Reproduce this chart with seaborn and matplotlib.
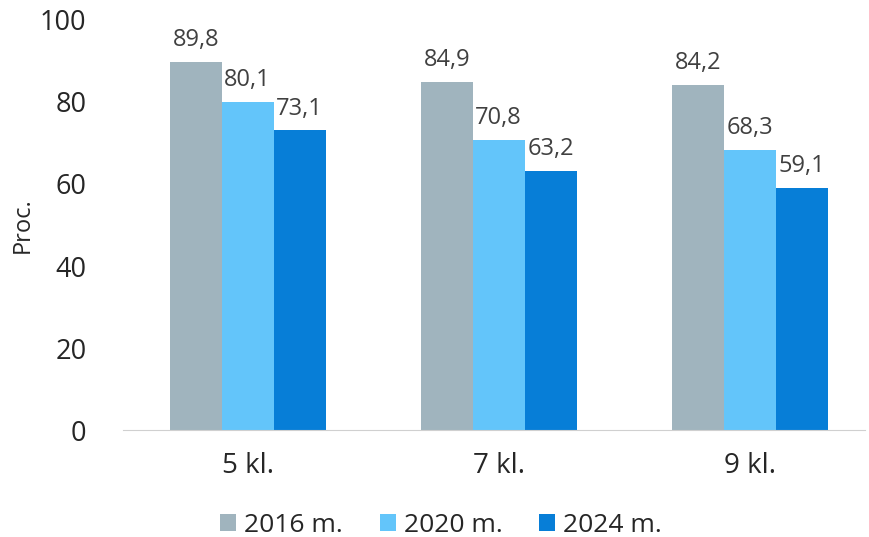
import matplotlib
matplotlib.use('Agg')
import matplotlib.pyplot as plt
import pandas as pd
import seaborn as sns

''' DATA '''
classes = ['5 kl.', '7 kl.', '9 kl.']
years = ['2016 m.', '2020 m.', '2024 m.']
v2016 = [89.8, 84.9, 84.2]
v2020 = [80.1, 70.8, 68.3]
v2024 = [73.1, 63.2, 59.1]
colors = ['#A0B4BE', '#63C5FA', '#077ED7']

df = pd.DataFrame({
    'klase': classes * 3,
    'metai': [years[0]] * 3 + [years[1]] * 3 + [years[2]] * 3,
    'proc': v2016 + v2020 + v2024,
})

''' PLOT '''
sns.set_style('white')
plt.rcParams['font.family'] = ['Open Sans', 'DejaVu Sans']

fig = plt.figure(figsize=(8.7, 5.37), dpi=100)
ax = fig.add_axes([0.141, 0.199, 0.853, 0.764])
sns.barplot(data=df, x='klase', y='proc', hue='metai', palette=colors,
            width=0.62, gap=0, saturation=1, linewidth=0, ax=ax)

for cont in ax.containers:
    ax.bar_label(cont, labels=[f'{v:.1f}'.replace('.', ',') for v in cont.datavalues],
                 padding=7, fontsize=17, color='#404040')

ax.set_ylim(0, 100)
ax.set_xlim(-0.498, 2.458)
ax.set_yticks(range(0, 101, 20))
ax.tick_params(axis='y', labelsize=19.5, pad=26, length=0)
ax.tick_params(axis='x', labelsize=20, pad=16, length=0)
ax.set_xlabel('')
ax.set_ylabel('Proc.', fontsize=17, labelpad=4)
for s in ['top', 'right', 'left']:
    ax.spines[s].set_visible(False)
ax.spines['bottom'].set_color('#D0D0D0')

handles, labels = ax.get_legend_handles_labels()
ax.get_legend().remove()
fig.legend(handles, labels, loc='center', bbox_to_anchor=(0.507, 0.022), ncol=3,
           frameon=False, fontsize=19, handlelength=0.6, handleheight=0.6,
           handletextpad=0.3, columnspacing=1.4)

fig.savefig('out.png', dpi=100)
